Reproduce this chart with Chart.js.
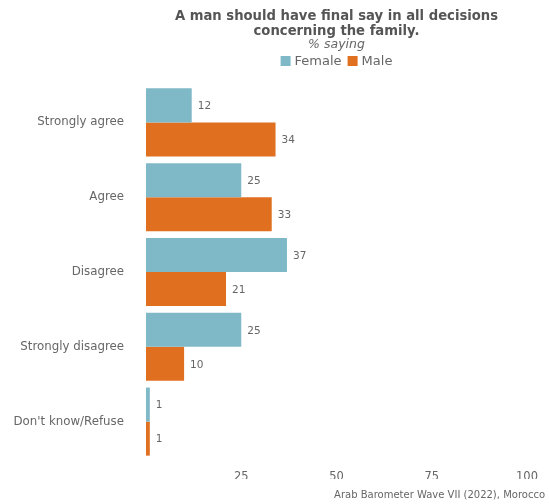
<!DOCTYPE html>
<html>
<head>
<meta charset="utf-8">
<script src="https://cdn.jsdelivr.net/npm/chart.js@4/dist/chart.umd.min.js"></script>
<style>
  html, body { margin: 0; padding: 0; background: #ffffff; }
  #wrap { width: 549px; height: 504px; position: relative; }
</style>
</head>
<body>
<div id="wrap"><canvas id="chart"></canvas></div>
<script>
// dados do gráfico
const categories = ['Strongly agree', 'Agree', 'Disagree', 'Strongly disagree', "Don't know/Refuse"];
const femaleValues = [12, 25, 37, 25, 1];
const maleValues = [34, 33, 21, 10, 1];
const xTicks = [25, 50, 75, 100];

const titleLines = ['A man should have final say in all decisions', 'concerning the family.'];
const subtitleText = '% saying';
const sourceText = 'Arab Barometer Wave VII (2022), Morocco';

const FONT = "'DejaVu Sans', sans-serif";
const GREY = '#666666';
const FEMALE = '#7fb9c8';
const MALE = '#e07020';

// rótulos de valor ao lado das barras + título, legenda e fonte
const extrasPlugin = {
    id: 'extras',
    afterDatasetsDraw(chart) {
        const ctx = chart.ctx;
        ctx.save();
        ctx.font = '10.5px ' + FONT;
        ctx.fillStyle = GREY;
        ctx.textAlign = 'left';
        ctx.textBaseline = 'middle';
        chart.data.datasets.forEach(function(ds, i) {
            chart.getDatasetMeta(i).data.forEach(function(bar, j) {
                ctx.fillText(String(ds.data[j]), bar.x + 6, bar.y + 1);
            });
        });
        ctx.restore();
    },
    afterDraw(chart) {
        const ctx = chart.ctx;
        const area = chart.chartArea;
        const cx = (area.left + area.right) / 2;
        ctx.save();
        ctx.textAlign = 'center';
        ctx.textBaseline = 'middle';
        ctx.fillStyle = '#555555';
        ctx.font = 'bold 13.2px ' + FONT;
        ctx.fillText(titleLines[0], cx, 17);
        ctx.fillText(titleLines[1], cx, 32);
        ctx.font = 'italic 12.5px ' + FONT;
        ctx.fillStyle = GREY;
        ctx.fillText(subtitleText, cx, 45);

        // legenda
        ctx.font = '13px ' + FONT;
        const items = [['Female', FEMALE], ['Male', MALE]];
        const box = 10, gap = 4, between = 6;
        let total = 0;
        items.forEach(function(it) { total += box + gap + ctx.measureText(it[0]).width; });
        total += between;
        let x = cx - total / 2;
        ctx.textAlign = 'left';
        items.forEach(function(it) {
            ctx.fillStyle = it[1];
            ctx.fillRect(x, 56, box, box);
            ctx.fillStyle = GREY;
            ctx.fillText(it[0], x + box + gap, 61.5);
            x += box + gap + ctx.measureText(it[0]).width + between;
        });

        // fonte
        ctx.font = '10px ' + FONT;
        ctx.fillStyle = GREY;
        ctx.textAlign = 'right';
        ctx.fillText(sourceText, 545, 495);
        ctx.restore();
    }
};

new Chart(document.getElementById('chart'), {
    type: 'bar',
    data: {
        labels: categories,
        datasets: [
            {
                label: 'Female',
                data: femaleValues,
                backgroundColor: FEMALE,
                borderWidth: 0,
                categoryPercentage: 0.91,
                barPercentage: 1
            },
            {
                label: 'Male',
                data: maleValues,
                backgroundColor: MALE,
                borderWidth: 0,
                categoryPercentage: 0.91,
                barPercentage: 1
            }
        ]
    },
    options: {
        indexAxis: 'y',
        responsive: true,
        maintainAspectRatio: false,
        animation: false,
        layout: { padding: { top: 85, right: 22, bottom: 25, left: 0 } },
        plugins: {
            legend: { display: false },
            title: { display: false },
            tooltip: { enabled: false }
        },
        scales: {
            x: {
                min: 0,
                max: 100,
                grid: { display: false, drawTicks: false },
                border: { display: false },
                afterBuildTicks: function(scale) {
                    scale.ticks = xTicks.map(function(v) { return { value: v }; });
                },
                afterFit: function(scale) { scale.height = 20; },
                ticks: {
                    color: GREY,
                    padding: 11,
                    font: { family: FONT, size: 11.5 }
                }
            },
            y: {
                grid: { display: false, drawTicks: false },
                border: { display: false },
                afterFit: function(scale) { scale.width = 146; },
                ticks: {
                    color: GREY,
                    padding: 22,
                    font: { family: FONT, size: 11.8 }
                }
            }
        }
    },
    plugins: [extrasPlugin]
});
</script>
</body>
</html>
